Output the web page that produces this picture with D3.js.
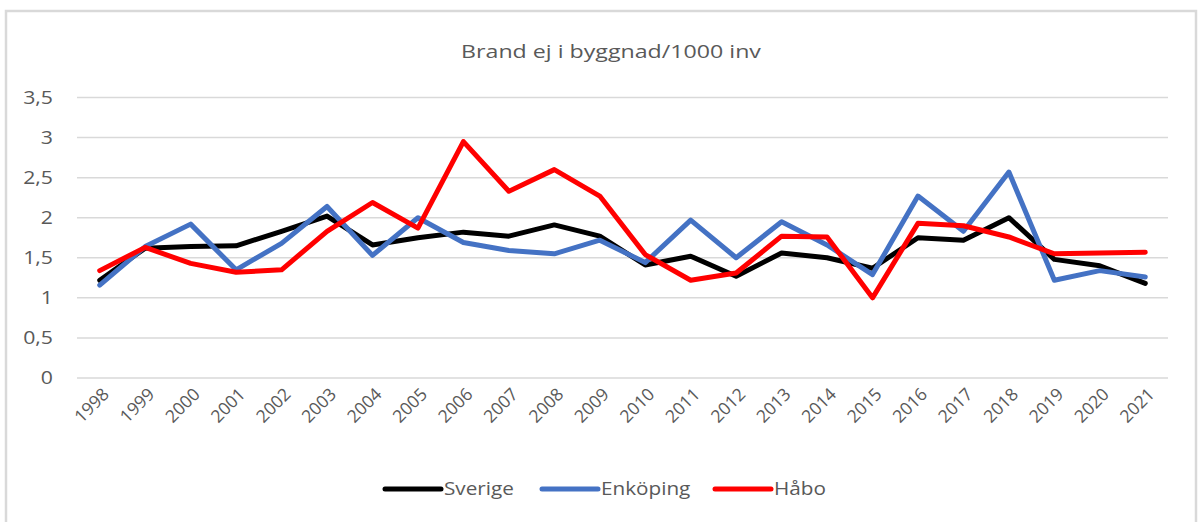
<!DOCTYPE html>
<html>
<head>
<meta charset="utf-8">
<script src="https://cdn.jsdelivr.net/npm/d3@7"></script>
<style>
  body { margin: 0; background: #fff; }
  svg text { font-family: "Open Sans", "Liberation Sans", sans-serif; fill: #595959; }
</style>
</head>
<body>
<svg id="chart" width="1198" height="522"></svg>
<script>
const years = ["1998","1999","2000","2001","2002","2003","2004","2005","2006","2007","2008","2009",
               "2010","2011","2012","2013","2014","2015","2016","2017","2018","2019","2020","2021"];
const sverige = [1.22,1.62,1.64,1.65,1.83,2.02,1.66,1.75,1.82,1.77,1.91,1.77,
                 1.41,1.52,1.27,1.56,1.50,1.37,1.75,1.72,2.00,1.48,1.40,1.18];
const enkoping = [1.16,1.64,1.92,1.35,1.68,2.14,1.53,2.00,1.69,1.59,1.55,1.72,
                  1.44,1.97,1.50,1.95,1.66,1.29,2.27,1.83,2.57,1.22,1.34,1.26];
const habo = [1.34,1.63,1.43,1.32,1.35,1.83,2.19,1.87,2.95,2.33,2.60,2.27,
              1.54,1.22,1.31,1.77,1.76,1.00,1.93,1.90,1.76,1.55,1.56,1.57];
const yTicks = [0, 0.5, 1, 1.5, 2, 2.5, 3, 3.5];

const series = [
  { name: "Sverige", values: sverige, color: "#000000" },
  { name: "Enköping", values: enkoping, color: "#4472C4" },
  { name: "Håbo", values: habo, color: "#FF0000" }
];

const svg = d3.select("#chart");
const margin = { left: 77, right: 1168, top: 97.5, bottom: 378 };

// chart frame
svg.append("path")
  .attr("d", "M6,530 V11 H1196 V530")
  .attr("fill", "none")
  .attr("stroke", "#d9d9d9")
  .attr("stroke-width", 2.5);

const x = d3.scaleBand().domain(years).range([margin.left, margin.right]);
const y = d3.scaleLinear().domain([0, 3.5]).range([margin.bottom, margin.top]);

// gridlines
svg.append("g")
  .selectAll("line")
  .data(yTicks)
  .join("line")
  .attr("x1", margin.left).attr("x2", margin.right)
  .attr("y1", d => y(d)).attr("y2", d => y(d))
  .attr("stroke", "#d9d9d9")
  .attr("stroke-width", 1.5);

// y axis labels (the source font is wider, so stretch a bit)
svg.append("g")
  .selectAll("text")
  .data(yTicks)
  .join("text")
  .attr("transform", d => `translate(53,${y(d)}) scale(1.18,1)`)
  .attr("dy", "0.35em")
  .attr("text-anchor", "end")
  .style("font-size", "18px")
  .text(d => String(d).replace(".", ","));

// x axis labels
svg.append("g")
  .selectAll("text")
  .data(years)
  .join("text")
  .attr("transform", d => `translate(${x(d) + x.bandwidth() / 2 + 6},391) rotate(-45)`)
  .attr("text-anchor", "end")
  .attr("dy", "0.35em")
  .style("font-size", "17.5px")
  .text(d => d);

// title
svg.append("text")
  .attr("transform", "translate(611,58) scale(1.22,1)")
  .attr("text-anchor", "middle")
  .style("font-size", "19px")
  .text("Brand ej i byggnad/1000 inv");

// lines
const line = d3.line()
  .x((d, i) => x(years[i]) + x.bandwidth() / 2)
  .y(d => y(d));

svg.append("g")
  .selectAll("path")
  .data(series)
  .join("path")
  .attr("d", d => line(d.values))
  .attr("fill", "none")
  .attr("stroke", d => d.color)
  .attr("stroke-width", 5)
  .attr("stroke-linejoin", "round")
  .attr("stroke-linecap", "round");

// legend
const legendX = [385, 542, 715];
const legend = svg.append("g")
  .selectAll("g")
  .data(series)
  .join("g")
  .attr("transform", (d, i) => `translate(${legendX[i]},489)`);

legend.append("line")
  .attr("x1", 0).attr("x2", 56)
  .attr("stroke", d => d.color)
  .attr("stroke-width", 5)
  .attr("stroke-linecap", "round");

legend.append("text")
  .attr("transform", "translate(59,0) scale(1.12,1)")
  .attr("dy", "0.35em")
  .style("font-size", "18.5px")
  .text(d => d.name);
</script>
</body>
</html>
